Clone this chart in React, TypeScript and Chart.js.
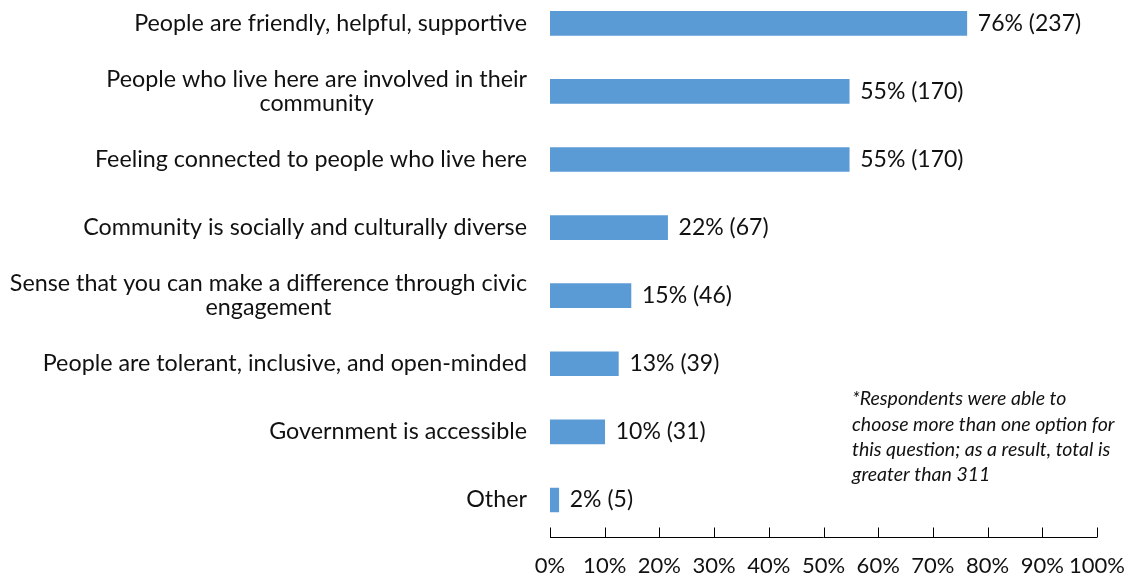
import { useEffect, useRef } from "react";
import { Chart, registerables } from "chart.js";

Chart.register(...registerables);

const categories: string[][] = [
  ["People are friendly, helpful, supportive"],
  ["People who live here are involved in their", "community"],
  ["Feeling connected to people who live here"],
  ["Community is socially and culturally diverse"],
  ["Sense that you can make a difference through civic", "engagement"],
  ["People are tolerant, inclusive, and open-minded"],
  ["Government is accessible"],
  ["Other"],
];
const shares = [76.2, 54.7, 54.7, 21.5, 14.8, 12.5, 10.0, 1.6];
const percentLabels = [76, 55, 55, 22, 15, 13, 10, 2];
const counts = [237, 170, 170, 67, 46, 39, 31, 5];
const xTickValues = [0, 10, 20, 30, 40, 50, 60, 70, 80, 90, 100];
const noteLines = [
  "*Respondents were able to",
  "choose more than one option for",
  "this question; as a result, total is",
  "greater than 311",
];

const FONT = "Lato, 'Open Sans', sans-serif";
const TEXT = "#111111";
const BAR = "#5B9BD5";
const OFFSET = 30; // canvas shifted up by this many px

export default function App() {
  const ref = useRef<HTMLCanvasElement | null>(null);

  useEffect(() => {
    if (!ref.current) return;

    const customDraw = {
      id: "customDraw",
      afterDraw(chart: any) {
        const ctx = chart.ctx as CanvasRenderingContext2D;
        const xs = chart.scales.x;
        const ys = chart.scales.y;
        const area = chart.chartArea;
        ctx.save();
        // category labels
        ctx.fillStyle = TEXT;
        ctx.font = `23.3px ${FONT}`;
        ctx.textBaseline = "middle";
        ctx.textAlign = "center";
        const rightEdge = area.left - 23;
        const lineH = 24;
        categories.forEach((lines, i) => {
          const yc = ys.getPixelForValue(i);
          const w = Math.max(...lines.map((l) => ctx.measureText(l).width));
          const cx = rightEdge - w / 2;
          lines.forEach((l, j) => {
            ctx.fillText(l, cx, yc + (j - (lines.length - 1) / 2) * lineH);
          });
        });
        // value labels
        ctx.font = `23px ${FONT}`;
        ctx.textAlign = "left";
        const meta = chart.getDatasetMeta(0);
        meta.data.forEach((bar: any, i: number) => {
          ctx.fillText(`${percentLabels[i]}% (${counts[i]})`, bar.x + 11, bar.y);
        });
        // x axis line and ticks
        const axisY = Math.round(area.bottom + 3) + 0.5;
        ctx.strokeStyle = "#000000";
        ctx.lineWidth = 1;
        ctx.beginPath();
        const x0 = xs.getPixelForValue(0);
        const x1 = xs.getPixelForValue(100);
        ctx.moveTo(x0, axisY);
        ctx.lineTo(x1, axisY);
        xTickValues.forEach((v) => {
          const px = Math.round(xs.getPixelForValue(v)) + 0.5;
          ctx.moveTo(px, axisY);
          ctx.lineTo(px, axisY - 10);
        });
        ctx.stroke();
        // note
        ctx.font = `italic 19.5px ${FONT}`;
        ctx.textAlign = "left";
        noteLines.forEach((l, j) => {
          ctx.fillText(l, 852, 399 + OFFSET + j * 25.3);
        });
        ctx.restore();
      },
    };

    const chart = new Chart(ref.current, {
      type: "bar",
      data: {
        labels: categories.map((c) => c.join(" ")),
        datasets: [
          {
            data: shares,
            backgroundColor: BAR,
            borderWidth: 0,
            barThickness: 24,
          },
        ],
      },
      options: {
        indexAxis: "y",
        animation: false,
        responsive: false,
        maintainAspectRatio: false,
        layout: {
          padding: { left: 550, right: 1125 - 1097, top: OFFSET - 10.7, bottom: 0 },
        },
        plugins: {
          legend: { display: false },
          tooltip: { enabled: false },
          title: { display: false },
        },
        scales: {
          y: {
            type: "category",
            offset: true,
            grid: { display: false },
            border: { display: false },
            ticks: { display: false },
            afterFit: (scale: any) => {
              scale.width = 0;
              scale.paddingTop = 0;
              scale.paddingBottom = 0;
            },
          },
          x: {
            type: "linear",
            min: 0,
            max: 100,
            grid: { display: false },
            border: { display: false },
            ticks: {
              stepSize: 10,
              color: TEXT,
              font: { family: FONT, size: 22 },
              padding: 11,
              callback: (v: any) => `${v}%`,
              maxRotation: 0,
              autoSkip: false,
            },
            afterFit: (scale: any) => {
              scale.height = 43;
              scale.paddingLeft = 0;
              scale.paddingRight = 0;
            },
          },
        },
      },
      plugins: [customDraw],
    });
    return () => chart.destroy();
  }, []);

  return (
    <canvas
      ref={ref}
      width={1125}
      height={577 + OFFSET}
      style={{
        position: "fixed",
        left: 0,
        top: -OFFSET,
        width: 1125,
        height: 577 + OFFSET,
        background: "#ffffff",
      }}
    />
  );
}
